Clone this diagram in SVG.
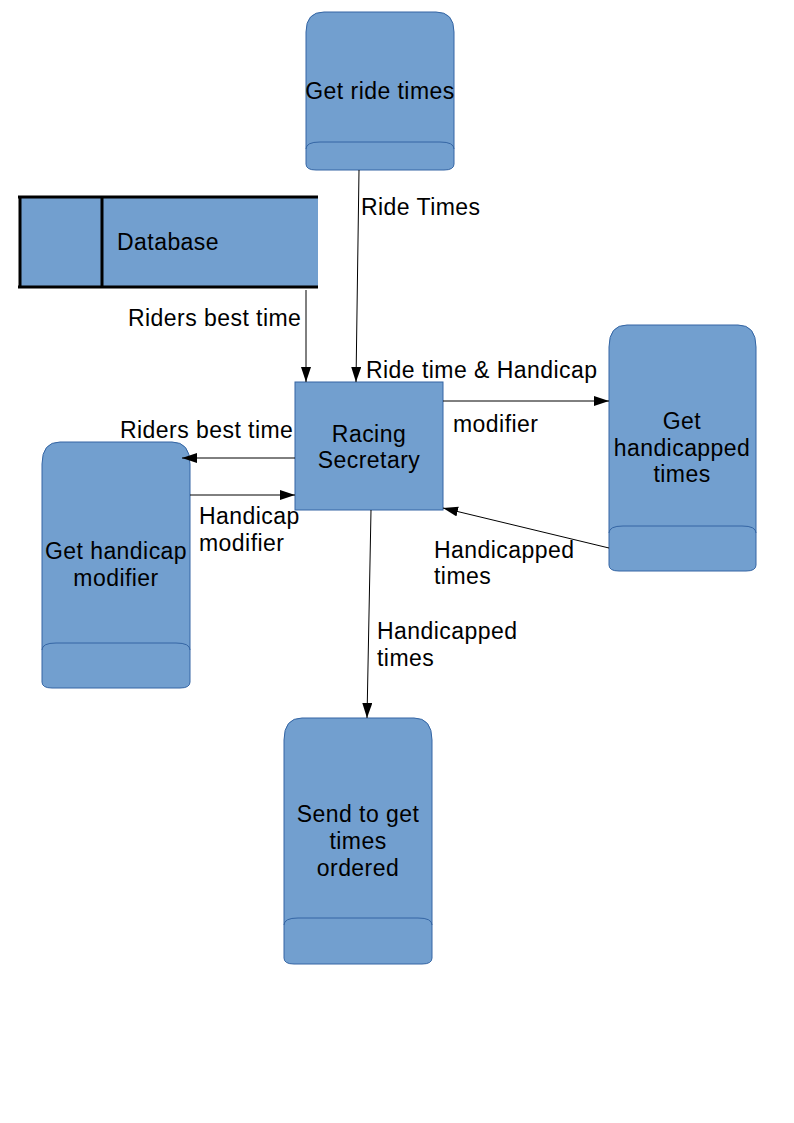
<svg xmlns="http://www.w3.org/2000/svg" width="794" height="1123" viewBox="0 0 794 1123">
<defs>
<style>
.shape{fill:#729fcf;stroke:#3465a4;stroke-width:1}
.band{fill:none;stroke:#3465a4;stroke-width:1}
.t{font-family:"Liberation Sans",Arial,sans-serif;font-size:23px;letter-spacing:0.45px;fill:#000}
.c{text-anchor:middle}
.conn{stroke:#000;stroke-width:1;fill:none;marker-end:url(#arr)}
.db{stroke:#000;stroke-width:3;fill:none}
</style>
<marker id="arr" markerUnits="userSpaceOnUse" markerWidth="16" markerHeight="11" refX="15" refY="5" orient="auto">
<path d="M0,0 L15,5 L0,10 Z" fill="#000"/>
</marker>
</defs>
<rect width="794" height="1123" fill="#fff"/>

<g id="get-ride-times">
<path class="shape" d="M306,32 Q306,12 324,12 L436,12 Q454,12 454,32 L454,164 Q454,170 444,170 L316,170 Q306,170 306,164 Z"/>
<path class="band" d="M306,149 Q306,142 320,142 L440,142 Q454,142 454,149"/>
<text class="t c" x="380" y="99">Get ride times</text>
</g>

<g id="database">
<rect x="20" y="197" width="298" height="90" fill="#729fcf"/>
<path class="db" d="M18,197 L318,197 M18,287 L318,287 M20,197 L20,287 M102,197 L102,287"/>
<text class="t" x="117" y="250">Database</text>
</g>

<g id="racing-secretary">
<rect class="shape" x="295" y="382" width="148" height="128"/>
<text class="t c" x="369" y="442">Racing</text>
<text class="t c" x="369" y="468">Secretary</text>
</g>

<g id="get-handicapped-times">
<path class="shape" d="M609,347 Q609,325 627,325 L738,325 Q756,325 756,347 L756,565 Q756,571 746,571 L619,571 Q609,571 609,565 Z"/>
<path class="band" d="M609,533 Q609,526 623,526 L742,526 Q756,526 756,533"/>
<text class="t c" x="682" y="429">Get</text>
<text class="t c" x="682" y="456">handicapped</text>
<text class="t c" x="682" y="482">times</text>
</g>

<g id="get-handicap-modifier">
<path class="shape" d="M42,464 Q42,442 60,442 L172,442 Q190,442 190,464 L190,682 Q190,688 180,688 L52,688 Q42,688 42,682 Z"/>
<path class="band" d="M42,650 Q42,643 56,643 L176,643 Q190,643 190,650"/>
<text class="t c" x="116" y="559">Get handicap</text>
<text class="t c" x="116" y="586">modifier</text>
</g>

<g id="send-to-get-times-ordered">
<path class="shape" d="M284,740 Q284,718 302,718 L414,718 Q432,718 432,740 L432,958 Q432,964 422,964 L294,964 Q284,964 284,958 Z"/>
<path class="band" d="M284,925 Q284,918 298,918 L418,918 Q432,918 432,925"/>
<text class="t c" x="358" y="822">Send to get</text>
<text class="t c" x="358" y="849">times</text>
<text class="t c" x="358" y="876">ordered</text>
</g>

<g id="connectors">
<line class="conn" x1="359" y1="170" x2="356" y2="382"/>
<line class="conn" x1="306" y1="290" x2="306" y2="382"/>
<line class="conn" x1="443" y1="401" x2="609" y2="401"/>
<line class="conn" x1="295" y1="458" x2="182" y2="458"/>
<line class="conn" x1="190" y1="495" x2="295" y2="495"/>
<line class="conn" x1="609" y1="548" x2="443" y2="508"/>
<line class="conn" x1="371" y1="510" x2="367" y2="718"/>
</g>

<g id="labels">
<text class="t" x="361" y="215">Ride Times</text>
<text class="t" x="128" y="326">Riders best time</text>
<text class="t" x="366" y="378">Ride time &amp; Handicap</text>
<text class="t" x="453" y="432">modifier</text>
<text class="t" x="120" y="438">Riders best time</text>
<text class="t" x="199" y="524">Handicap</text>
<text class="t" x="199" y="551">modifier</text>
<text class="t" x="434" y="558">Handicapped</text>
<text class="t" x="434" y="584">times</text>
<text class="t" x="377" y="639">Handicapped</text>
<text class="t" x="377" y="666">times</text>
</g>
</svg>
